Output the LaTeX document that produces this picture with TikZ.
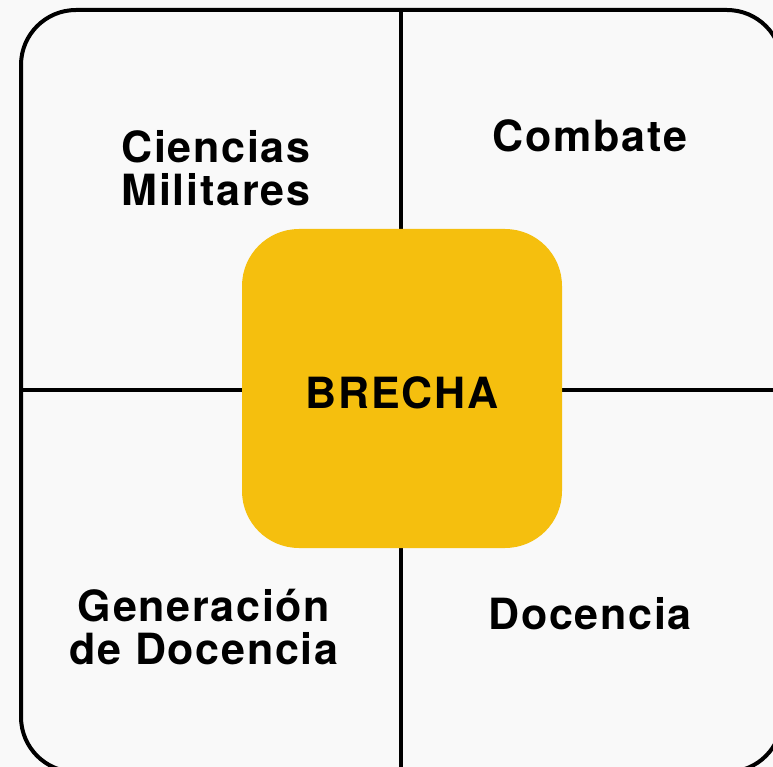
\documentclass[tikz,border=0pt]{standalone}
\usepackage{fontspec}
\setmainfont[LetterSpace=4]{TeX Gyre Heros}
\definecolor{bg}{HTML}{F9F9F9}
\definecolor{brechayellow}{HTML}{F5BF0E}
\begin{document}
\begin{tikzpicture}[x=1pt,y=-1pt,
  framestyle/.style={line width=4pt,draw=black,rounded corners=55pt},
  divider/.style={line width=3.5pt,draw=black},
  label/.style={font=\fontsize{43}{43.5}\selectfont\bfseries,align=center,text=black,inner sep=0pt},
  core/.style={fill=brechayellow,draw=none,rounded corners=57pt,minimum width=320pt,minimum height=319pt,inner sep=0pt,text height=39pt,text depth=0pt,font=\fontsize{43}{42}\selectfont\bfseries}]
\useasboundingbox (0,0) rectangle (773,767);
\fill[bg] (0,0) rectangle (773,767);
\clip (0,0) rectangle (773,767);
\coordinate (top) at (401,10);
\coordinate (bottom) at (401,772);
\coordinate (left) at (21,390);
\coordinate (right) at (782,390);
\draw[framestyle] (21,10) rectangle (782,772);
\draw[divider] (top) -- (bottom);
\draw[divider] (left) -- (right);
\node[core] (brecha) at (402,388.5) {BRECHA};
\node[label] (cm) at (216,168) {Ciencias\\Militares};
\node[label] (comb) at (590,136) {Combate};
\node[label] (gen) at (204,627) {Generación\\de Docencia};
\node[label] (doc) at (590,614) {Docencia};
\end{tikzpicture}
\end{document}
